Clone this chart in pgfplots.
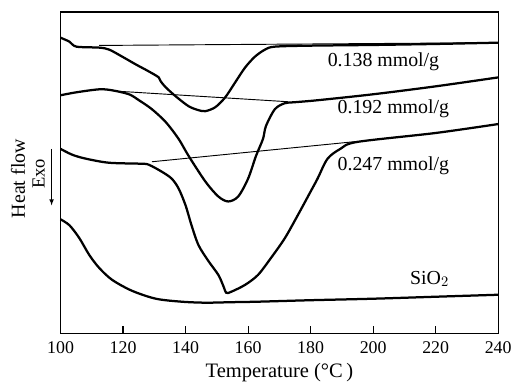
\documentclass[border=0pt]{standalone}
\usepackage{pgfplots}
\pgfplotsset{compat=1.18}
\usepackage{fontspec}
\setmainfont{Liberation Serif}
\begin{document}
\begin{tikzpicture}
\begin{axis}[
  name=ax,
  scale only axis,
  width=330.75pt, height=243pt,
  xmin=100, xmax=240,
  ymin=12, ymax=336,
  y dir=reverse,
  xtick={100,120,...,240},
  ytick=\empty,
  xtick pos=bottom,
  tick align=inside,
  major tick length=6pt,
  axis line style={line width=0.9pt},
  every tick/.style={line width=0.9pt, black},
  /pgf/number format/assume math mode=true,
  tick label style={font=\fontsize{13.5}{15}\selectfont},
  xticklabel style={anchor=base, yshift=-15pt},
  xlabel={Temperature (\textdegree C\,)},
  xlabel style={font=\fontsize{15.5}{17}\selectfont, at={(axis description cs:0.5,0)}, anchor=base, yshift=-33pt},
  clip=false,
]
% curve 0.138
\addplot[black, line width=1.7pt, smooth] coordinates {
(100,38) (102.86,42) (105.08,47) (112.38,48) (115.56,50) (119.68,57) (124.13,65) (128.25,72) (131.43,78) (132.06,82) (133.65,88) (136.83,97) (140.95,107) (144.13,111) (146.35,112) (149.52,108) (152.70,98) (155.87,83) (159.05,68) (162.22,57) (165.40,50) (168.57,47) (180,46) (200,45.3) (220,44.3) (240,43)};
\addplot[black, line width=0.7pt] coordinates {(112.38,45.8) (240,43)};
% curve 0.192
\addplot[black, line width=1.7pt, smooth] coordinates {
(100,96) (105.08,93) (112.38,90) (116.51,91) (121.90,95) (125.08,101) (129.21,110) (133.65,123) (137.78,140) (140.95,157) (146.35,183) (150.48,198) (153.65,203) (156.83,198) (160,180) (162.54,157) (164.76,140) (165.71,127) (168.57,110) (171.75,104) (174.92,103) (182.22,101) (200,95) (220,87) (240,78)};
\addplot[black, line width=0.7pt] coordinates {(118.7,92) (172.7,102.5)};
% curve 0.247
\addplot[black, line width=1.7pt, smooth] coordinates {
(100,150) (103.81,156) (108.25,160) (115.56,164) (126.03,165) (128.25,166) (132.38,173) (135.56,180) (137.78,190) (140,207) (141.90,227) (144.13,247) (147.30,263) (150.48,277) (152.06,288) (153.02,295) (154.60,294) (159.05,287) (163.17,277) (167.30,260) (171.75,240) (175.87,217) (180,193) (182.22,180) (185.40,160) (189.52,150) (194.92,143) (220,134) (240,125)};
\addplot[black, line width=0.7pt] coordinates {(129.21,163) (194.92,142.5)};
% SiO2
\addplot[black, line width=1.7pt, smooth] coordinates {
(100,221) (102.86,227) (106.03,240) (109.21,257) (112.38,270) (116.51,282) (122.86,293) (130.48,301) (138.73,304) (146.35,305) (154.60,304.5) (163.17,304) (180,302.5) (200,301) (220,299) (240,297)};
\node[anchor=west, font=\fontsize{15}{17}\selectfont, inner sep=0pt] at (axis cs:185.4,62) {0.138 mmol/g};
\node[anchor=west, font=\fontsize{15}{17}\selectfont, inner sep=0pt] at (axis cs:188.57,110) {0.192 mmol/g};
\node[anchor=west, font=\fontsize{15}{17}\selectfont, inner sep=0pt] at (axis cs:188.57,167) {0.247 mmol/g};
\node[anchor=west, font=\fontsize{15}{17}\selectfont, inner sep=0pt] at (axis cs:211.75,281) {SiO$_2$};
\node[rotate=90, anchor=base, font=\fontsize{15}{17}\selectfont, inner sep=0pt] at (axis cs:88.57,180) {Heat flow};
\node[rotate=90, anchor=base, font=\fontsize{14}{16}\selectfont, inner sep=0pt] at (axis cs:94.9,175) {Exo};
\draw[-latex, line width=0.6pt] (axis cs:97.14,150) -- (axis cs:97.14,207);
\end{axis}
\path ([xshift=-45.75pt,yshift=-36.75pt]ax.south west) rectangle ([xshift=10.5pt,yshift=9pt]ax.north east);
\end{tikzpicture}
\end{document}
